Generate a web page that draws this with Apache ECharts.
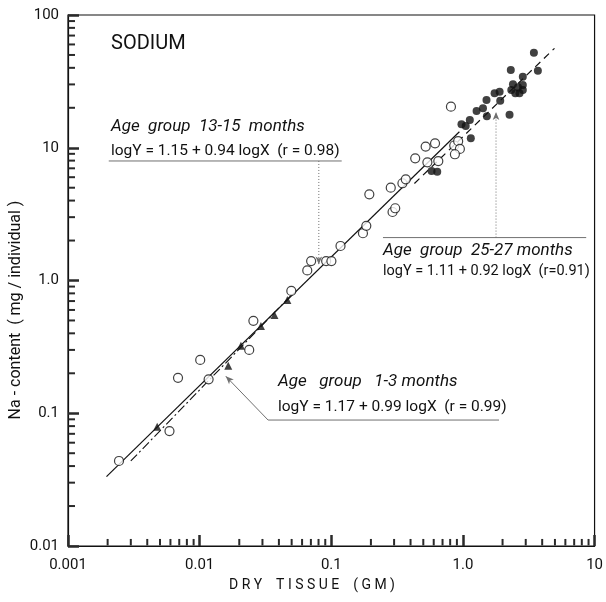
<!DOCTYPE html>
<html><head><meta charset="utf-8">
<script src="https://cdn.jsdelivr.net/npm/echarts@6/dist/echarts.min.js"></script>
<style>html,body{margin:0;padding:0;background:#fff}#c{width:606px;height:602px}</style>
</head><body><div id="c"></div>
<script>
// ---- axis tick labels ----
const xTickLabels = ['0.001', '0.01', '0.1', '1.0', '10'];
const yTickLabels = ['0.01', '0.1', '1.0', '10', '100'];
const minorMultipliers = [2, 3, 4, 5, 6, 7, 8, 9];
const xDecades = [0.001, 0.01, 0.1, 1];
const yDecades = [0.01, 0.1, 1, 10];

// ---- data: [dry tissue (g), Na content (mg/individual)] ----
const openCircles = [
  [0.00244, 0.0437], [0.0059, 0.0734], [0.00685, 0.185], [0.0101, 0.252], [0.0117, 0.180],
  [0.0238, 0.300], [0.0256, 0.497], [0.0497, 0.834], [0.0657, 1.19], [0.0703, 1.40],
  [0.0914, 1.40], [0.1002, 1.40], [0.1175, 1.82], [0.174, 2.27], [0.1845, 2.58],
  [0.1945, 4.46], [0.292, 3.28], [0.306, 3.50], [0.283, 5.0], [0.347, 5.40],
  [0.368, 5.78], [0.434, 8.33], [0.521, 10.2], [0.614, 10.8], [0.537, 7.77],
  [0.650, 7.94], [0.859, 10.4], [0.920, 11.2], [0.948, 9.8], [0.869, 8.93], [0.811, 20.4]
];
const filledCircles = [
  [0.578, 6.68], [0.638, 6.6], [1.148, 11.8], [0.975, 15.0], [1.05, 14.6],
  [1.128, 16.2], [1.27, 18.9], [1.42, 19.8], [1.52, 17.3], [1.51, 22.9],
  [1.74, 25.7], [1.90, 26.4], [1.92, 22.6], [2.26, 17.7], [2.31, 38.5],
  [2.40, 30.1], [2.33, 27.2], [2.50, 25.7], [2.69, 25.7], [2.85, 27.2],
  [2.85, 29.7], [2.62, 28.5], [2.85, 34.3], [3.46, 52.0], [3.71, 38.0]
];
const filledTriangles = [
  [0.00476, 0.0792], [0.0165, 0.228], [0.0206, 0.323], [0.0292, 0.454], [0.037, 0.55], [0.0464, 0.713]
];

// ---- regression lines (end points) ----
const lineSolid = [[0.00196, 0.0333], [0.94, 13.2]];
const lineDashDot = [[0.003, 0.0437], [0.05, 0.78]];
const lineDashed = [[0.428, 5.38], [4.96, 56.1]];

// ---- annotation leader lines (data space) ----
const lead13h = [[0.00204, 7.95], [0.120, 7.95]];
const lead13v = [[0.0804, 7.95], [0.0804, 1.32]];
const lead25h = [[0.247, 2.105], [8.64, 2.105]];
const lead25v = [[1.784, 2.105], [1.784, 18.6]];
const lead1 = [[1.88, 0.0889], [0.0331, 0.0889], [0.0158, 0.190]];

const INK = '#111111';
const TICK = '#2a2a2a';
const GREY = '#707070';
const FONT = 'Roboto, "Liberation Sans", sans-serif';
const X_MIN = 0.001, Y_MIN = 0.01;
const TICK_START = 1.01;   // start just inside the axis
const TICK_FACTOR = 1.13;  // minor tick length (~7 px) as a factor on the log axis

function labelFor(list, base) {
  return function (v) {
    const i = Math.round(Math.log10(v)) - base;
    return list[i] !== undefined ? list[i] : '';
  };
}

// minor ticks drawn as short line series in data space
const tickSeries = [];
xDecades.forEach(d => minorMultipliers.forEach(m => {
  tickSeries.push({ type: 'line', silent: true, symbol: 'none', clip: false, z: 4,
    data: [[d * m, Y_MIN * TICK_START], [d * m, Y_MIN * TICK_FACTOR]], lineStyle: { color: TICK, width: 2 } });
}));
yDecades.forEach(d => minorMultipliers.forEach(m => {
  tickSeries.push({ type: 'line', silent: true, symbol: 'none', clip: false, z: 4,
    data: [[X_MIN * TICK_START, d * m], [X_MIN * TICK_FACTOR, d * m]], lineStyle: { color: TICK, width: 2 } });
}));

function withArrow(pts, rot) {
  return pts.map((p, i) => i === pts.length - 1
    ? { value: p, symbol: 'arrow', symbolSize: [5, 8], symbolRotate: rot }
    : { value: p, symbol: 'none' });
}

const chart = echarts.init(document.getElementById('c'), null, { renderer: 'canvas' });
chart.setOption({
  animation: false,
  backgroundColor: '#fff',
  grid: { left: 68, right: 9, top: 15, bottom: 56, show: true, borderColor: INK, borderWidth: 1.2 },
  xAxis: {
    type: 'log', logBase: 10, min: 0.001, max: 10,
    axisLine: { show: true, onZero: false, lineStyle: { color: INK, width: 1.2 } },
    axisTick: { show: true, inside: true, length: 11, lineStyle: { color: TICK, width: 2.5 } },
    splitLine: { show: false },
    axisLabel: { formatter: labelFor(xTickLabels, -3), margin: 12, fontSize: 15, color: INK, fontFamily: FONT }
  },
  yAxis: {
    type: 'log', logBase: 10, min: 0.01, max: 100,
    axisLine: { show: true, onZero: false, lineStyle: { color: INK, width: 1.2 } },
    axisTick: { show: true, inside: true, length: 11, lineStyle: { color: TICK, width: 2.5 } },
    splitLine: { show: false },
    axisLabel: { formatter: labelFor(yTickLabels, -2), margin: 9, fontSize: 15, color: INK, fontFamily: FONT }
  },
  graphic: [
    { type: 'text', left: 111, top: 34, style: { text: 'SODIUM', font: '20px ' + FONT, fill: INK } },
    { type: 'text', left: 111, top: 118, style: { text: 'Age  group  13-15  months', font: 'italic 17px ' + FONT, fill: INK } },
    { type: 'text', left: 111, top: 143, style: { text: 'logY = 1.15 + 0.94 logX  (r = 0.98)', font: '15.5px ' + FONT, fill: INK } },
    { type: 'text', left: 383, top: 242, style: { text: 'Age  group  25-27 months', font: 'italic 17px ' + FONT, fill: INK } },
    { type: 'text', left: 383, top: 264, style: { text: 'logY = 1.11 + 0.92 logX  (r=0.91)', font: '14.5px ' + FONT, fill: INK } },
    { type: 'text', left: 278, top: 373, style: { text: 'Age   group   1-3 months', font: 'italic 17px ' + FONT, fill: INK } },
    { type: 'text', left: 278, top: 399, style: { text: 'logY = 1.17 + 0.99 logX  (r = 0.99)', font: '15.5px ' + FONT, fill: INK } },
    { type: 'text', x: 312, y: 585, style: { text: 'D R Y    T I S S U E    ( G M )', font: '14px ' + FONT, fill: INK, textAlign: 'center', textVerticalAlign: 'middle' } },
    { type: 'text', x: 16, y: 310, rotation: Math.PI / 2, style: { text: 'Na - content  ( mg / individual )', font: '16px ' + FONT, fill: INK, textAlign: 'center', textVerticalAlign: 'middle' } }
  ],
  series: [
    { type: 'line', data: lineSolid, symbol: 'none', lineStyle: { color: INK, width: 1.2 }, z: 2 },
    { type: 'line', data: lineDashDot, symbol: 'none', lineStyle: { color: INK, width: 1.1, type: [9, 3, 2, 3] }, z: 2 },
    { type: 'line', data: lineDashed, symbol: 'none', lineStyle: { color: INK, width: 1.2, type: [7, 5] }, z: 2 },
    { type: 'line', data: lead13h, symbol: 'none', lineStyle: { color: GREY, width: 1 }, z: 1 },
    { type: 'line', data: withArrow(lead13v, 180), itemStyle: { color: GREY }, lineStyle: { color: GREY, width: 1, type: [1, 2] }, z: 1 },
    { type: 'line', data: lead25h, symbol: 'none', lineStyle: { color: GREY, width: 1 }, z: 1 },
    { type: 'line', data: withArrow(lead25v, 0), itemStyle: { color: GREY }, lineStyle: { color: GREY, width: 1, type: [1, 2] }, z: 1 },
    { type: 'line', data: withArrow(lead1, 45), itemStyle: { color: GREY }, lineStyle: { color: GREY, width: 1 }, z: 1 },
    { type: 'scatter', data: openCircles, symbol: 'circle', symbolSize: 9, itemStyle: { color: '#fff', borderColor: INK, borderWidth: 1.2 }, z: 5 },
    { type: 'scatter', data: filledCircles, symbol: 'circle', symbolSize: 8, itemStyle: { color: INK }, z: 6 },
    { type: 'scatter', data: filledTriangles, symbol: 'triangle', symbolSize: 8, itemStyle: { color: INK }, z: 6 }
  ].concat(tickSeries)
});
</script></body></html>
